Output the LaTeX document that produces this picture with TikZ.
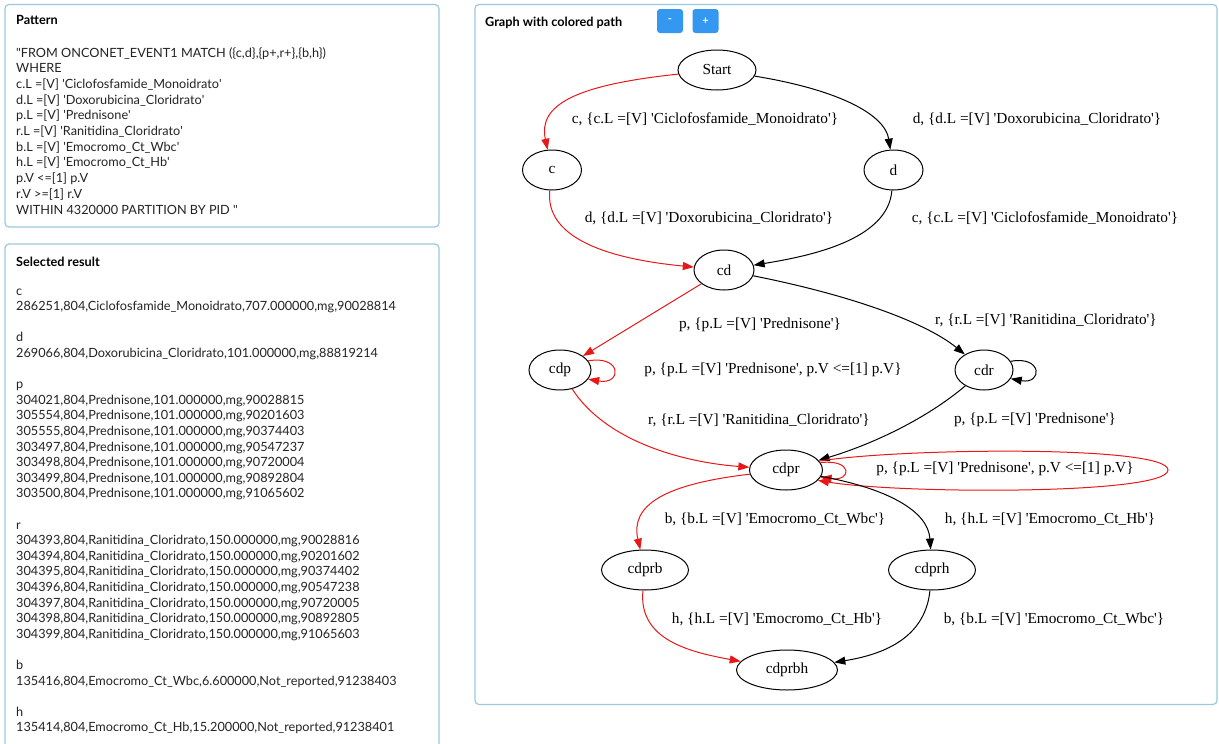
\documentclass[tikz,border=0pt]{standalone}
\usepackage{fontspec}
\setmainfont{Liberation Serif}
\newfontfamily\uifont{Lato}
\usetikzlibrary{shapes.geometric,arrows.meta}
\definecolor{panelborder}{RGB}{155,200,220}
\definecolor{uitext}{RGB}{35,35,35}
\definecolor{btnblue}{RGB}{52,152,240}
\definecolor{pathred}{RGB}{232,24,24}
\newcommand{\sq}{\textquotesingle}
\newcommand{\dq}{\textquotedbl}
\begin{document}
\begin{tikzpicture}[x=1pt,y=-1pt,
 panel/.style={draw=panelborder, line width=1.2pt, rounded corners=4pt, fill=white},
 uitxt/.style={font=\uifont\fontsize{12.7}{15}\selectfont, text=uitext, anchor=base west, inner sep=0pt},
 uititle/.style={font=\uifont\bfseries\fontsize{12.7}{14}\selectfont, text=black, anchor=base west, inner sep=0pt},
 gnode/.style={ellipse, draw=black, line width=1pt, minimum height=40pt, inner sep=0pt, font=\fontsize{15.3}{18}\selectfont},
 glabel/.style={font=\fontsize{15.3}{18}\selectfont, inner sep=0pt},
 bedge/.style={draw=black, line width=1pt, -{Triangle[length=11pt,width=8pt]}},
 redge/.style={draw=pathred, line width=1pt, -{Triangle[length=11pt,width=8pt]}},
 btn/.style={fill=btnblue, rounded corners=3pt, minimum width=26pt, minimum height=24pt, inner sep=0pt, text=white, font=\uifont\bfseries\fontsize{11}{12}\selectfont}]
\useasboundingbox (0,0) rectangle (1219,744);
\fill[white] (0,0) rectangle (1219,744);
\clip (0,0) rectangle (1219,744);

% panels
\draw[panel] (5,4.5) rectangle (439,227);
\draw[panel] (5,244) rectangle (439,770);
\draw[panel] (475,4.5) rectangle (1217,704.5);

% titles
\node[uititle] (ttlpattern) at (16,24.5) {Pattern};
\node[uititle] (ttlresult) at (16,266) {Selected result};
\node[uititle] (ttlgraph) at (485,26) {Graph with colored path};
\node[btn] (btnminus) at (670,21) {-};
\node[btn] (btnplus) at (705.5,21) {+};

% pattern text
\foreach \t [count=\i from 0] in {
 {\dq FROM ONCONET\_EVENT1 MATCH (\{c,d\},\{p+,r+\},\{b,h\})},
 {WHERE},
 {c.L =[V] \sq Ciclofosfamide\_Monoidrato\sq},
 {d.L =[V] \sq Doxorubicina\_Cloridrato\sq},
 {p.L =[V] \sq Prednisone\sq},
 {r.L =[V] \sq Ranitidina\_Cloridrato\sq},
 {b.L =[V] \sq Emocromo\_Ct\_Wbc\sq},
 {h.L =[V] \sq Emocromo\_Ct\_Hb\sq},
 {p.V <=[1] p.V},
 {r.V >=[1] r.V},
 {WITHIN 4320000 PARTITION BY PID \dq}}
 \node[uitxt] (pat\i) at (16,{57+15.7*\i}) {\t};

% result text
\foreach \k/\t in {
 0/c,
 1/{286251,804,Ciclofosfamide\_Monoidrato,707.000000,mg,90028814},
 3/d,
 4/{269066,804,Doxorubicina\_Cloridrato,101.000000,mg,88819214},
 6/p,
 7/{304021,804,Prednisone,101.000000,mg,90028815},
 8/{305554,804,Prednisone,101.000000,mg,90201603},
 9/{305555,804,Prednisone,101.000000,mg,90374403},
 10/{303497,804,Prednisone,101.000000,mg,90547237},
 11/{303498,804,Prednisone,101.000000,mg,90720004},
 12/{303499,804,Prednisone,101.000000,mg,90892804},
 13/{303500,804,Prednisone,101.000000,mg,91065602},
 15/r,
 16/{304393,804,Ranitidina\_Cloridrato,150.000000,mg,90028816},
 17/{304394,804,Ranitidina\_Cloridrato,150.000000,mg,90201602},
 18/{304395,804,Ranitidina\_Cloridrato,150.000000,mg,90374402},
 19/{304396,804,Ranitidina\_Cloridrato,150.000000,mg,90547238},
 20/{304397,804,Ranitidina\_Cloridrato,150.000000,mg,90720005},
 21/{304398,804,Ranitidina\_Cloridrato,150.000000,mg,90892805},
 22/{304399,804,Ranitidina\_Cloridrato,150.000000,mg,91065603},
 24/b,
 25/{135416,804,Emocromo\_Ct\_Wbc,6.600000,Not\_reported,91238403},
 27/h,
 28/{135414,804,Emocromo\_Ct\_Hb,15.200000,Not\_reported,91238401}}
 \node[uitxt] (res\k) at (16,{295+15.6*\k}) {\t};

% graph nodes
\node[gnode, minimum width=78pt] (start) at (717,70) {Start};
\node[gnode, minimum width=59pt] (c) at (552,170) {c};
\node[gnode, minimum width=59pt] (d) at (893.5,170) {d};
\node[gnode, minimum width=60pt] (cd) at (724,270) {cd};
\node[gnode, minimum width=62pt] (cdp) at (560,370) {cdp};
\node[gnode, minimum width=58pt] (cdr) at (984,370) {cdr};
\node[gnode, minimum width=73pt] (cdpr) at (786,470) {cdpr};
\node[gnode, minimum width=87pt] (cdprb) at (645,570) {cdprb};
\node[gnode, minimum width=87pt] (cdprh) at (932,570) {cdprh};
\node[gnode, minimum width=101pt] (cdprbh) at (787,670) {cdprbh};
\coordinate (cdprloop) at (1168,470);

% edges
\draw[redge] (start) .. controls (575,85) and (538,105) .. (c);
\draw[bedge] (start) .. controls (840,90) and (885,115) .. (d);
\draw[redge] (c) .. controls (545,235) and (600,258) .. (cd);
\draw[bedge] (d) .. controls (888,240) and (810,256) .. (cd);
\draw[redge] (cd) -- (cdp);
\draw[bedge] (cd) .. controls (850,295) and (925,322) .. (cdr);
\draw[redge] (cdp.18) .. controls +(34,-6) and +(34,6) .. (cdp.-18);
\draw[bedge] (cdr.18) .. controls +(32,-6) and +(32,6) .. (cdr.-18);
\draw[redge] (cdp) .. controls (605,440) and (680,462) .. (cdpr);
\draw[bedge] (cdr) .. controls (925,420) and (870,445) .. (cdpr);
\draw[redge] (cdpr.15) .. controls (900,448) and (1168,445) .. (cdprloop) .. controls (1168,495) and (900,494) .. (cdpr.-18);
\draw[redge] (cdpr.12) .. controls +(32,-4) and +(32,4) .. (cdpr.-12);
\draw[redge] (cdpr) .. controls (665,484) and (630,505) .. (cdprb);
\draw[bedge] (cdpr) .. controls (885,488) and (928,510) .. (cdprh);
\draw[redge] (cdprb) .. controls (638,640) and (690,652) .. (cdprbh);
\draw[bedge] (cdprh) .. controls (925,640) and (880,655) .. (cdprbh);

% edge labels
\node[glabel] (l1) at (705,119) {c, \{c.L =[V] \sq Ciclofosfamide\_Monoidrato\sq\}};
\node[glabel] (l2) at (1037,119) {d, \{d.L =[V] \sq Doxorubicina\_Cloridrato\sq\}};
\node[glabel] (l3) at (709,218) {d, \{d.L =[V] \sq Doxorubicina\_Cloridrato\sq\}};
\node[glabel] (l4) at (1045,218) {c, \{c.L =[V] \sq Ciclofosfamide\_Monoidrato\sq\}};
\node[glabel] (l5) at (760,325) {p, \{p.L =[V] \sq Prednisone\sq\}};
\node[glabel] (l6) at (1046,320) {r, \{r.L =[V] \sq Ranitidina\_Cloridrato\sq\}};
\node[glabel] (l7) at (773,370) {p, \{p.L =[V] \sq Prednisone\sq, p.V <=[1] p.V\}};
\node[glabel] (l8) at (759,420) {r, \{r.L =[V] \sq Ranitidina\_Cloridrato\sq\}};
\node[glabel] (l9) at (1035,420) {p, \{p.L =[V] \sq Prednisone\sq\}};
\node[glabel] (l10) at (1005,469) {p, \{p.L =[V] \sq Prednisone\sq, p.V <=[1] p.V\}};
\node[glabel] (l11) at (775,519) {b, \{b.L =[V] \sq Emocromo\_Ct\_Wbc\sq\}};
\node[glabel] (l12) at (1050,519) {h, \{h.L =[V] \sq Emocromo\_Ct\_Hb\sq\}};
\node[glabel] (l13) at (777,619) {h, \{h.L =[V] \sq Emocromo\_Ct\_Hb\sq\}};
\node[glabel] (l14) at (1054,619) {b, \{b.L =[V] \sq Emocromo\_Ct\_Wbc\sq\}};
\end{tikzpicture}
\end{document}
